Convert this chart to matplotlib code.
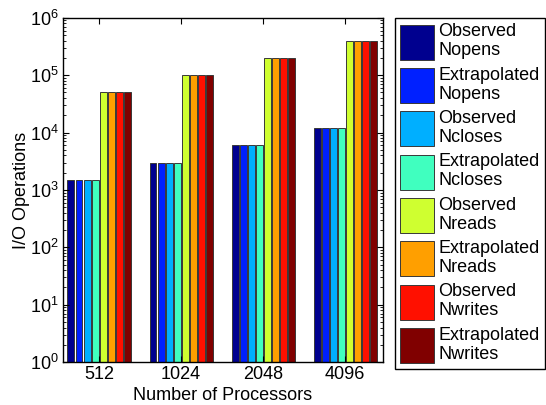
import numpy as np
import matplotlib
matplotlib.use("Agg")
import matplotlib.pyplot as plt

plt.rcParams['font.family'] = ['Liberation Sans', 'DejaVu Sans']
plt.rcParams['mathtext.default'] = 'regular'
plt.rcParams['font.size'] = 13

# data
processors = ['512', '1024', '2048', '4096']
series_names = ['Observed\nNopens', 'Extrapolated\nNopens',
                'Observed\nNcloses', 'Extrapolated\nNcloses',
                'Observed\nNreads', 'Extrapolated\nNreads',
                'Observed\nNwrites', 'Extrapolated\nNwrites']
obs_nopens = [1500, 3000, 6000, 12000]
ext_nopens = [1500, 3000, 6000, 12000]
obs_ncloses = [1500, 3000, 6000, 12000]
ext_ncloses = [1500, 3000, 6000, 12000]
obs_nreads = [50000, 100000, 200000, 400000]
ext_nreads = [50000, 100000, 200000, 400000]
obs_nwrites = [50000, 100000, 200000, 400000]
ext_nwrites = [50000, 100000, 200000, 400000]

series = [obs_nopens, ext_nopens, obs_ncloses, ext_ncloses,
          obs_nreads, ext_nreads, obs_nwrites, ext_nwrites]
# jet-like colours
colors = ['#00008F', '#0020FF', '#00AFFF', '#40FFBF',
          '#CFFF30', '#FF9F00', '#FF1000', '#800000']

fig = plt.figure(figsize=(5.46, 4.05), dpi=100)
ax = fig.add_axes([0.1154, 0.106, 0.586, 0.85])

x = np.arange(1, len(processors) + 1)
step = 0.098
width = 0.085
for i, (vals, name) in enumerate(zip(series, series_names)):
    offs = (i - (len(series) - 1) / 2) * step
    ax.bar(x + offs, vals, width, bottom=1, color=colors[i],
           edgecolor='#383838', linewidth=0.7, label=name)

ax.set_yscale('log')
ax.set_ylim(1, 1e6)
ax.set_xlim(0.56, 4.46)
ax.set_xticks(x)
ax.set_xticklabels(processors)
ax.set_xlabel('Number of Processors', labelpad=2.5)
ax.set_ylabel('I/O Operations', labelpad=0)
ax.tick_params(which='both', direction='in', top=True, right=True)
ax.tick_params(which='major', length=4, pad=3)
ax.tick_params(which='minor', length=2)
ax.tick_params(axis='x', which='minor', bottom=False, top=False)
for s in ax.spines.values():
    s.set_linewidth(1.0)

leg = fig.legend(loc='upper left', bbox_to_anchor=(0.723, 0.956),
                 borderaxespad=0, fancybox=False, edgecolor='black',
                 framealpha=1, handlelength=1.9, handleheight=2.6,
                 labelspacing=0.38, handletextpad=0.2, borderpad=0.3,
                 fontsize=13)
for t in leg.get_texts():
    t.set_linespacing(1.15)

fig.savefig('out.png', dpi=100)
